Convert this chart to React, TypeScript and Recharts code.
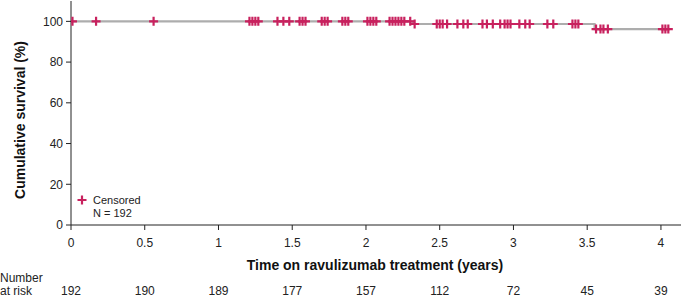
import React from "react";
import {
  ComposedChart,
  Line,
  Scatter,
  XAxis,
  YAxis,
} from "recharts";

// KM step points (years, %)
const stepTimes = [0, 2.32, 3.55, 4.05];
const stepSurvival = [100, 98.7, 96.2, 96.2];

// censored observations (years)
const censorTimes = [
  0.01, 0.17, 0.56, 1.21, 1.23, 1.25, 1.27, 1.4, 1.44, 1.48, 1.55, 1.57, 1.59,
  1.7, 1.72, 1.74, 1.84, 1.86, 1.88, 2.01, 2.03, 2.05, 2.07, 2.16, 2.18, 2.2,
  2.22, 2.24, 2.26, 2.3, 2.33, 2.48, 2.5, 2.52, 2.55, 2.62, 2.66, 2.69, 2.79,
  2.82, 2.86, 2.91, 2.94, 2.96, 2.98, 3.04, 3.08, 3.11, 3.23, 3.27, 3.4, 3.42,
  3.44, 3.56, 3.59, 3.61, 3.64, 4.01, 4.03, 4.05,
];

const timeTicks = [0, 0.5, 1, 1.5, 2, 2.5, 3, 3.5, 4];
const atRisk = [192, 190, 189, 177, 157, 112, 72, 45, 39];
const survTicks = [0, 20, 40, 60, 80, 100];

const FONT = '"Liberation Sans", Arial, sans-serif';
const PINK = "#C8215E";

const survivalAt = (t: number) => {
  let s = stepSurvival[0];
  for (let i = 0; i < stepTimes.length; i++) {
    if (stepTimes[i] <= t) s = stepSurvival[i];
  }
  return s;
};

const curve = stepTimes.map((t, i) => ({ t, s: stepSurvival[i] }));
const censored = censorTimes.map((t) => ({ t, s: survivalAt(t) }));

const Plus = (props: any) => {
  const { cx, cy } = props;
  return (
    <path
      d={`M${cx - 4.5},${cy}H${cx + 4.5}M${cx},${cy - 4.5}V${cy + 4.5}`}
      stroke={PINK}
      strokeWidth={2.2}
      fill="none"
    />
  );
};

const RiskTick = (props: any) => {
  const { x, index } = props;
  return (
    <text
      x={x}
      y={291}
      dominantBaseline="central"
      textAnchor="middle"
      fontSize={12}
      fontFamily={FONT}
      fill="#222"
    >
      {atRisk[index]}
    </text>
  );
};

export default function App() {
  return (
    <div
      style={{
        position: "absolute",
        left: 0,
        top: 0,
        width: 681,
        height: 297,
        background: "#fff",
        fontFamily: FONT,
      }}
    >
      <ComposedChart
        width={681}
        height={297}
        margin={{ top: 1, right: 0, bottom: 0, left: 0 }}
      >
        <XAxis
          dataKey="t"
          type="number"
          domain={[0, 4.136]}
          ticks={timeTicks}
          allowDataOverflow
          height={43}
          tickSize={5}
          tickMargin={8}
          stroke="#222"
          tick={{ fontSize: 12, fill: "#222", fontFamily: FONT }}
        />
        <XAxis
          xAxisId="risk"
          dataKey="t"
          type="number"
          domain={[0, 4.136]}
          ticks={timeTicks}
          allowDataOverflow
          height={29}
          axisLine={false}
          tickLine={false}
          tick={<RiskTick />}
        />
        <YAxis
          type="number"
          domain={[0, 110]}
          ticks={survTicks}
          allowDataOverflow
          width={71}
          tickSize={5}
          tickMargin={3}
          stroke="#222"
          tick={{ fontSize: 12, fill: "#222", fontFamily: FONT }}
        />
        <Line
          data={curve}
          dataKey="s"
          type="stepAfter"
          stroke="#ADADAD"
          strokeWidth={2.2}
          dot={false}
          isAnimationActive={false}
        />
        <Scatter
          data={censored}
          dataKey="s"
          shape={<Plus />}
          isAnimationActive={false}
        />
      </ComposedChart>
      <svg
        width={681}
        height={297}
        style={{ position: "absolute", left: 0, top: 0, pointerEvents: "none" }}
        fontFamily={FONT}
      >
        <text
          transform="translate(20,120) rotate(-90)"
          textAnchor="middle"
          dominantBaseline="central"
          fontSize={14}
          fontWeight="bold"
          fill="#111"
        >
          Cumulative survival (%)
        </text>
        <text
          x={375}
          y={265}
          textAnchor="middle"
          dominantBaseline="central"
          fontSize={14}
          fontWeight="bold"
          fill="#111"
        >
          Time on ravulizumab treatment (years)
        </text>
        <text x={0} y={278} dominantBaseline="central" fontSize={12} fill="#222">
          Number
        </text>
        <text x={0} y={291} dominantBaseline="central" fontSize={12} fill="#222">
          at risk
        </text>
        <Plus cx={82} cy={200} />
        <text x={93} y={200} dominantBaseline="central" fontSize={11} fill="#222">
          Censored
        </text>
        <text x={93} y={213} dominantBaseline="central" fontSize={11} fill="#222">
          N = 192
        </text>
      </svg>
    </div>
  );
}
